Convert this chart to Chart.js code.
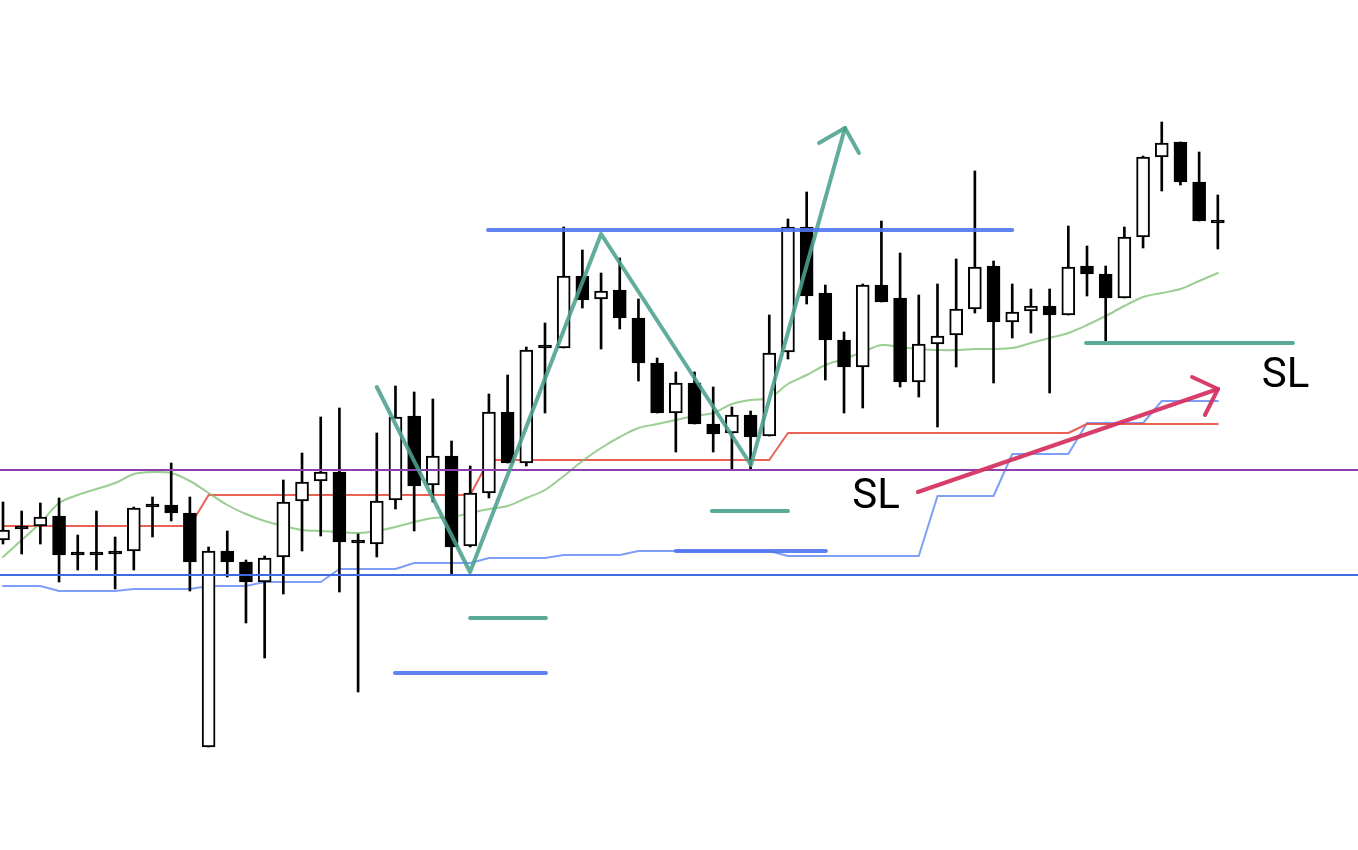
<!DOCTYPE html>
<html>
<head>
<meta charset="utf-8">
<script src="https://cdn.jsdelivr.net/npm/chart.js@4.4.1/dist/chart.umd.min.js"></script>
<style>
html,body{margin:0;padding:0;background:#fff;overflow:hidden}
canvas{display:block}
</style>
</head>
<body>
<canvas id="c" width="1358" height="850"></canvas>
<script>
// ---- candle data (price units) ----
const opens  = [154.60,154.73,154.74,154.84,154.46,154.46,154.49,154.49,154.94,154.95,154.87,152.53,154.49,154.38,154.18,154.43,154.99,155.19,155.28,154.58,154.56,155.00,155.84,155.15,155.44,154.54,155.07,155.88,155.37,156.54,156.52,157.24,157.01,157.10,156.82,156.37,155.87,156.17,155.76,155.67,155.85,155.64,156.48,157.73,157.07,156.60,156.33,157.15,157.02,156.18,156.56,156.65,156.91,157.34,156.78,156.89,156.94,156.85,157.34,157.26,157.02,157.63,158.43,158.58,158.18,157.78];
const highs  = [154.98,154.89,154.97,155.02,154.65,154.89,154.63,154.93,155.03,155.37,155.03,154.53,154.69,154.40,154.44,155.20,155.47,155.83,155.92,154.66,155.67,156.14,156.08,156.01,155.59,155.34,156.06,156.25,156.53,156.77,157.73,157.50,157.27,157.42,157.01,156.42,156.28,156.28,156.13,155.93,155.89,156.85,157.81,158.08,157.15,156.68,157.16,157.79,157.47,157.05,157.16,157.41,158.29,157.39,157.16,157.11,157.11,157.74,157.54,157.34,157.73,158.44,158.78,158.58,158.48,158.05];
const lows   = [154.56,154.46,154.56,154.18,154.30,154.30,154.11,154.30,154.63,154.79,154.09,152.53,154.23,153.77,153.42,154.06,154.49,154.64,154.08,153.08,154.43,154.91,154.69,154.98,154.26,154.53,155.02,155.37,155.34,155.87,156.52,156.92,156.51,156.71,156.19,155.87,155.48,155.76,155.48,155.31,155.31,155.64,156.41,156.96,156.20,155.87,155.92,156.98,156.13,156.03,155.73,156.33,156.87,156.17,156.62,156.67,156.07,156.85,157.04,156.59,157.02,157.52,158.09,158.15,157.79,157.51];
const closes = [154.70,154.71,154.83,154.45,154.45,154.45,154.46,154.92,154.93,154.87,154.38,154.49,154.38,154.18,154.42,154.98,155.18,155.28,154.58,154.57,154.99,155.83,155.14,155.44,154.53,155.07,155.88,155.37,156.50,156.52,157.24,157.00,157.09,156.82,156.37,155.87,156.17,155.76,155.66,155.85,155.63,156.47,157.73,157.04,156.60,156.33,157.15,156.98,156.18,156.56,156.64,156.91,157.33,156.78,156.88,156.94,156.85,157.33,157.26,157.02,157.63,158.43,158.57,158.18,157.79,157.77];

// ---- indicator lines ----
const movingAvg = [154.43,154.60,154.77,154.97,155.05,155.11,155.17,155.26,155.28,155.27,155.19,155.07,154.95,154.86,154.79,154.74,154.70,154.69,154.68,154.67,154.69,154.73,154.78,154.82,154.83,154.87,154.91,154.94,155.02,155.10,155.24,155.39,155.52,155.63,155.72,155.76,155.80,155.84,155.87,155.96,156.00,156.02,156.16,156.25,156.35,156.41,156.48,156.55,156.53,156.51,156.50,156.50,156.51,156.51,156.52,156.57,156.62,156.67,156.75,156.84,156.94,157.03,157.07,157.11,157.19,157.27];
const baseLine  = [154.74,154.74,154.74,154.74,154.74,154.74,154.74,154.74,154.74,154.74,154.74,155.05,155.05,155.05,155.05,155.05,155.05,155.05,155.05,155.05,155.05,155.05,155.05,155.05,155.05,155.05,155.40,155.40,155.40,155.40,155.40,155.40,155.40,155.40,155.40,155.40,155.40,155.40,155.40,155.40,155.40,155.40,155.67,155.67,155.67,155.67,155.67,155.67,155.67,155.67,155.67,155.67,155.67,155.67,155.67,155.67,155.67,155.67,155.76,155.76,155.76,155.76,155.76,155.76,155.76,155.76];
const lowerBand = [154.14,154.14,154.14,154.09,154.09,154.09,154.09,154.11,154.11,154.11,154.11,154.14,154.14,154.14,154.18,154.18,154.18,154.18,154.31,154.31,154.31,154.31,154.37,154.37,154.37,154.37,154.42,154.42,154.42,154.42,154.45,154.45,154.45,154.45,154.49,154.49,154.49,154.49,154.49,154.49,154.49,154.49,154.44,154.44,154.44,154.44,154.44,154.44,154.44,154.44,155.04,155.04,155.04,155.04,155.46,155.46,155.46,155.46,155.77,155.77,155.77,155.77,155.99,155.99,155.99,155.99];

// ---- drawn annotations (x in candle index, y in price) ----
const purpleLevel = 155.30;
const blueLevel = 154.25;
const blueSegments = [ [25.95,157.70,54.0,157.70], [36.0,154.49,44.03,154.49], [20.97,153.27,29.05,153.27] ];
const tealSegments = [ [24.99,153.82,29.05,153.82], [37.93,154.89,42.0,154.89], [57.95,156.57,69.02,156.57] ];
const zigzagX = [20.0, 24.99, 32.0, 40.02, 45.05];
const zigzagY = [156.13, 154.28, 157.66, 155.35, 158.72];
const tealArrowArms = [ [43.66,158.57], [45.80,158.47] ];
const redArrow = [ [48.95,155.08], [65.01,156.11] ];
const redArrowArms = [ [63.62,156.23], [64.31,155.85] ];
const slLabels = [ {x:46.71, y:155.03, text:'SL'}, {x:68.62, y:156.24, text:'SL'} ];

const X_MIN = -0.16, X_MAX = 72.5, Y_MIN = 151.5, Y_MAX = 160.0;

const idx = opens.map((_, i) => i);
const bodyData = idx.map(i => ({x:i, y:[opens[i], closes[i]]}));
const wickData = idx.map(i => ({x:i, y:[lows[i], highs[i]]}));
const bodyFill = idx.map(i => closes[i] > opens[i] ? '#ffffff' : '#000000');
const series = arr => arr.map((v, i) => ({x:i, y:v}));
const seg = s => [{x:s[0], y:s[1]}, {x:s[2], y:s[3]}];

const lineDs = (data, color, width, order, extra) => Object.assign({
  type:'line', data, borderColor:color, borderWidth:width, pointRadius:0,
  fill:false, tension:0, order, borderCapStyle:'round', borderJoinStyle:'round'
}, extra || {});

const datasets = [];
// indicators (behind candles)
datasets.push(lineDs(series(movingAvg), 'rgba(120,190,110,0.75)', 2, 5, {tension:0.3}));
datasets.push(lineDs(series(baseLine), 'rgba(232,75,62,0.88)', 2, 5));
datasets.push(lineDs(series(lowerBand), 'rgba(95,135,245,0.8)', 2, 5));
// candles
datasets.push({type:'bar', data:wickData, backgroundColor:'#000', borderWidth:0, barThickness:2, grouped:false, order:4});
datasets.push({type:'bar', data:bodyData, backgroundColor:bodyFill, borderColor:'#000', borderWidth:2, borderSkipped:false, barThickness:13, minBarLength:3, grouped:false, order:3});
// horizontal levels
datasets.push(lineDs([{x:X_MIN,y:purpleLevel},{x:X_MAX,y:purpleLevel}], '#8e3fae', 2, 1, {borderCapStyle:'butt'}));
datasets.push(lineDs([{x:X_MIN,y:blueLevel},{x:X_MAX,y:blueLevel}], '#4169e1', 2, 1, {borderCapStyle:'butt'}));
// drawn segments
blueSegments.forEach(s => datasets.push(lineDs(seg(s), 'rgba(80,118,240,0.9)', 4, 0)));
tealSegments.forEach(s => datasets.push(lineDs(seg(s), 'rgba(80,165,145,0.95)', 4, 0)));
datasets.push(lineDs(zigzagX.map((x, i) => ({x, y:zigzagY[i]})), 'rgba(75,160,140,0.88)', 4, 0));
const tip = {x:zigzagX[zigzagX.length-1], y:zigzagY[zigzagY.length-1]};
tealArrowArms.forEach(a => datasets.push(lineDs([{x:a[0],y:a[1]}, tip], 'rgba(75,160,140,0.88)', 4, 0)));
datasets.push(lineDs(redArrow.map(p => ({x:p[0], y:p[1]})), 'rgba(214,52,98,0.95)', 4, 0));
const rtip = {x:redArrow[1][0], y:redArrow[1][1]};
redArrowArms.forEach(a => datasets.push(lineDs([{x:a[0],y:a[1]}, rtip], 'rgba(214,52,98,0.95)', 4, 0)));

const labelPlugin = {
  id:'slLabels',
  afterDatasetsDraw(chart) {
    const {ctx, scales:{x, y}} = chart;
    ctx.save();
    ctx.fillStyle = '#000';
    ctx.font = '42px Roboto, "Liberation Sans", Arial, sans-serif';
    ctx.textAlign = 'center';
    ctx.textBaseline = 'middle';
    slLabels.forEach(l => ctx.fillText(l.text, x.getPixelForValue(l.x), y.getPixelForValue(l.y)));
    ctx.restore();
  }
};

new Chart(document.getElementById('c'), {
  type:'bar',
  data:{datasets},
  options:{
    responsive:false, animation:false, devicePixelRatio:1,
    layout:{padding:0},
    plugins:{legend:{display:false}, tooltip:{enabled:false}, title:{display:false}},
    scales:{
      x:{type:'linear', min:X_MIN, max:X_MAX, display:false, offset:false},
      y:{type:'linear', min:Y_MIN, max:Y_MAX, display:false}
    }
  },
  plugins:[labelPlugin]
});
</script>
</body>
</html>
